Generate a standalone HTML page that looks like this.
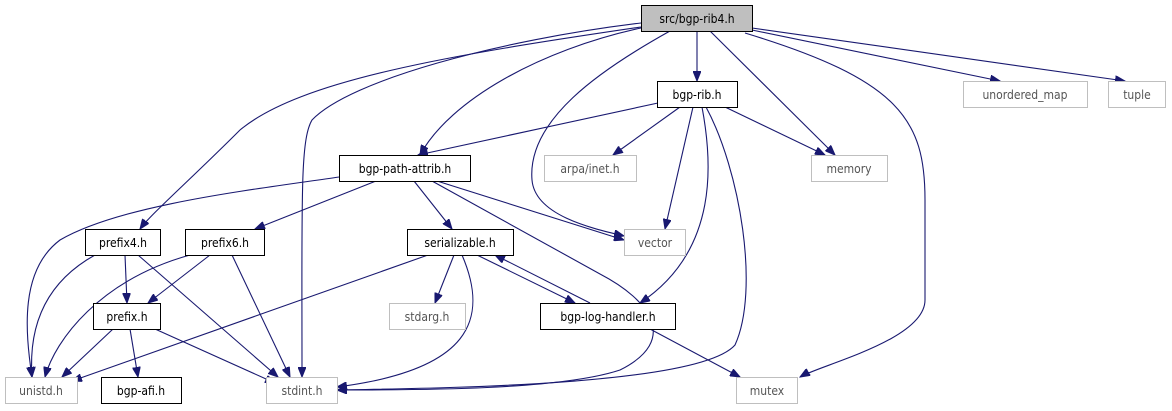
<!DOCTYPE html>
<html><head><meta charset="utf-8"><style>
body{margin:0;background:#fff}
svg{display:block}
text{font-family:"DejaVu Sans Condensed","DejaVu Sans","Liberation Sans",sans-serif;font-size:12px;text-anchor:middle}
.e{fill:none;stroke:#191970;stroke-width:1.1}
.n{fill:#fff;stroke:#000;stroke-width:1}
.g{fill:#fff;stroke:#bfbfbf;stroke-width:1}
</style></head><body>
<svg width="1172" height="411" viewBox="0 0 1172 411">
<defs><marker id="a" markerWidth="11" markerHeight="8" refX="10" refY="4" orient="auto" markerUnits="userSpaceOnUse"><path d="M0,0L10,4L0,8z" fill="#191970" stroke="#191970"/></marker></defs>
<g class="e" marker-end="url(#a)">
<path d="M697,31L697,81"/>
<path d="M752,30L1000,81"/>
<path d="M752,28L1125,81"/>
<path d="M710,31L835,155"/>
<path d="M745,33C900,80 925,120 925,200L925,300C925,340 820,365 800,377"/>
<path d="M670,31C600,70 527,120 532,180C535,215 590,228 624,236"/>
<path d="M641,28C540,50 450,100 420,155"/>
<path d="M641,27C450,55 300,80 240,130C190,180 150,215 140,229"/>
<path d="M641,23C500,40 350,80 312,120C300,140 302,200 302,377"/>
<path d="M658,103L418,155"/>
<path d="M680,107L613,155"/>
<path d="M725,107L825,155"/>
<path d="M693,107L665,229"/>
<path d="M702,107C712,160 720,250 640,303"/>
<path d="M706,107C740,170 760,290 735,345C700,385 450,388 337,390"/>
<path d="M339,177C250,190 120,205 60,240C20,270 25,330 32,377"/>
<path d="M376,181L255,229"/>
<path d="M414,181L452,229"/>
<path d="M437,181L624,240"/>
<path d="M432,181L600,274C650,300 680,340 620,370C560,390 420,390 337,390"/>
<path d="M125,255L127,303"/>
<path d="M95,255C50,280 28,320 32,377"/>
<path d="M138,255L278,377"/>
<path d="M210,255L148,303"/>
<path d="M190,255C100,280 55,340 45,377"/>
<path d="M232,255L290,377"/>
<path d="M113,329L62,377"/>
<path d="M130,329L138,377"/>
<path d="M155,329L275,383"/>
<path d="M428,255L72,381"/>
<path d="M454,255L435,303"/>
<path d="M462,255C490,320 470,370 337,387"/>
<path d="M477,255L575,303"/>
<path d="M590,303L495,255"/>
<path d="M650,329L740,377"/>
</g>
<rect x="641.5" y="5.5" width="111" height="26" fill="#bfbfbf" stroke="#000"/><text x="697" y="23">src/bgp-rib4.h</text>
<rect class="n" x="657.5" y="81.5" width="80" height="26"/><text x="697" y="99">bgp-rib.h</text>
<rect class="g" x="963.5" y="81.5" width="124" height="26"/><text x="1025" y="99" fill="#555">unordered_map</text>
<rect class="g" x="1108.5" y="81.5" width="57" height="26"/><text x="1137" y="99" fill="#555">tuple</text>
<rect class="n" x="339.5" y="155.5" width="131" height="26"/><text x="405" y="173">bgp-path-attrib.h</text>
<rect class="g" x="544.5" y="155.5" width="92" height="26"/><text x="590" y="173" fill="#555">arpa/inet.h</text>
<rect class="g" x="811.5" y="155.5" width="76" height="26"/><text x="849" y="173" fill="#555">memory</text>
<rect class="n" x="85.5" y="229.5" width="75" height="26"/><text x="123" y="247">prefix4.h</text>
<rect class="n" x="185.5" y="229.5" width="79" height="26"/><text x="225" y="247">prefix6.h</text>
<rect class="n" x="407.5" y="229.5" width="106" height="26"/><text x="460" y="247">serializable.h</text>
<rect class="g" x="624.5" y="229.5" width="61" height="26"/><text x="655" y="247" fill="#555">vector</text>
<rect class="n" x="93.5" y="303.5" width="67" height="26"/><text x="127" y="321">prefix.h</text>
<rect class="g" x="389.5" y="303.5" width="76" height="26"/><text x="427" y="321" fill="#555">stdarg.h</text>
<rect class="n" x="540.5" y="303.5" width="135" height="26"/><text x="608" y="321">bgp-log-handler.h</text>
<rect class="g" x="5.5" y="377.5" width="72" height="26"/><text x="41" y="395" fill="#555">unistd.h</text>
<rect class="n" x="101.5" y="377.5" width="80" height="26"/><text x="141" y="395">bgp-afi.h</text>
<rect class="g" x="266.5" y="377.5" width="71" height="26"/><text x="302" y="395" fill="#555">stdint.h</text>
<rect class="g" x="736.5" y="377.5" width="61" height="26"/><text x="767" y="395" fill="#555">mutex</text>
</svg>
</body></html>
